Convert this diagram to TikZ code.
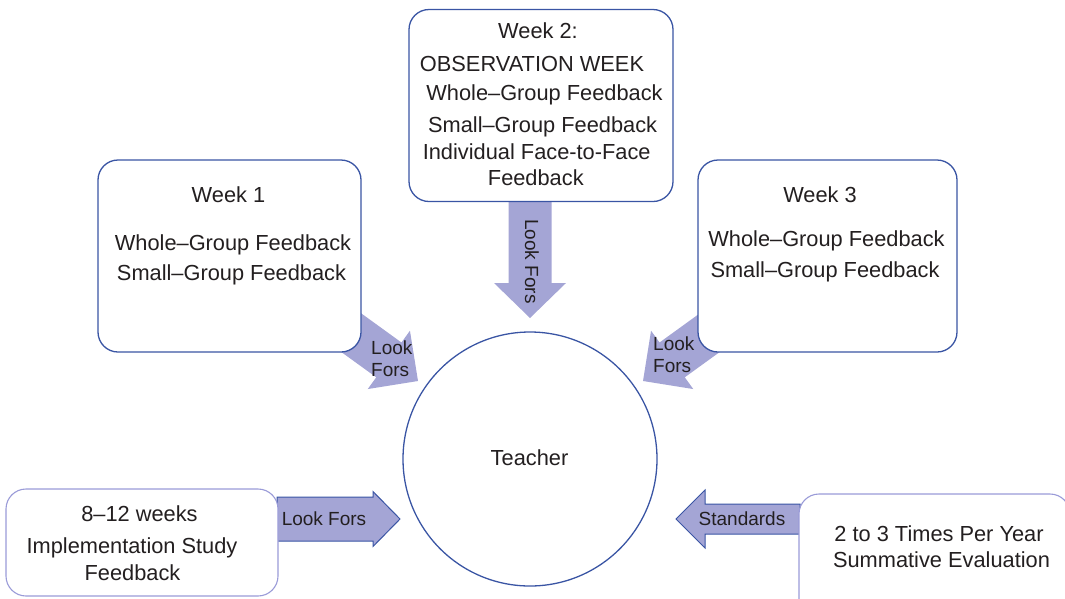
\documentclass[tikz,border=0pt]{standalone}
\usepackage{fontspec}
\setmainfont{Liberation Sans}
\definecolor{boxblue}{HTML}{3A55A4}
\definecolor{lightbox}{HTML}{9A9BD8}
\definecolor{arrowfill}{HTML}{A4A5D5}
\definecolor{txt}{HTML}{231F20}
\newcommand{\blockarr}[7]{% #1 style, #2 tip, #3 angle, #4 head length, #5 head half width, #6 shaft half width, #7 shaft length
  \begin{scope}[shift={(#2)}, rotate=#3]
    \path[#1] (0,0) -- (-#4,#5) -- (-#4,#6) -- (-#4-#7,#6) -- (-#4-#7,-#6) -- (-#4,-#6) -- (-#4,-#5) -- cycle;
  \end{scope}}
\tikzset{
  box/.style={draw=boxblue, line width=1.3pt, fill=white, rounded corners=20pt, inner sep=0pt, outer sep=0pt},
  softbox/.style={box, draw=lightbox, line width=1.1pt},
  txtnode/.style={text=txt, inner sep=0pt, anchor=base, font=\fontsize{21.8}{26}\selectfont},
  lbl/.style={text=txt, inner sep=0pt, font=\fontsize{19}{22}\selectfont},
  arrplain/.style={fill=arrowfill},
  arroutl/.style={fill=arrowfill, draw=boxblue, line width=1pt, line join=miter},
}
\begin{document}
\begin{tikzpicture}[x=1pt, y=-1pt]
\useasboundingbox (0,0) rectangle (1065,598);
\clip (0,0) rectangle (1065,598);

% arrow tips
\coordinate (tipdown) at (530,318);
\coordinate (tipleft) at (418,381);
\coordinate (tipright) at (643,381);
\coordinate (tipbl) at (400,519);
\coordinate (tipbr) at (676,519);

% block arrows (drawn below the boxes)
\blockarr{arrplain}{tipdown}{-90}{35}{36}{21.5}{100}
\blockarr{arrplain}{tipleft}{-35.9}{36}{36}{21.5}{80}
\blockarr{arrplain}{tipright}{-144.1}{36}{36}{21.5}{80}
\blockarr{arroutl}{tipbl}{0}{27}{27.5}{22}{96}
\blockarr{arroutl}{tipbr}{180}{29}{29}{15}{95}

% boxes
\node[box, minimum width=264pt, minimum height=192pt] (w2) at (541,105.5) {};
\node[box, minimum width=263pt, minimum height=192pt] (w1) at (229.5,256) {};
\node[box, minimum width=259pt, minimum height=192pt] (w3) at (827.5,256) {};
\node[softbox, minimum width=272pt, minimum height=107pt] (impl) at (142,542.5) {};
\node[softbox, minimum width=271pt, minimum height=130pt] (summ) at (934.5,559) {};

% teacher circle
\node[draw=boxblue, line width=1.3pt, fill=white, circle, minimum size=254pt, inner sep=0pt, outer sep=0pt] (teacher) at (530,459) {};
\node[txtnode] (teachertxt) at (529.5,465.5) {Teacher};

% Week 2 text
\node[txtnode] (w2a) at (538,38.3) {Week 2:};
\node[txtnode] (w2b) at (532,71) {OBSERVATION WEEK};
\node[txtnode] (w2c) at (544.5,100) {Whole–Group Feedback};
\node[txtnode] (w2d) at (542.6,132) {Small–Group Feedback};
\node[txtnode] (w2e) at (536.7,159) {Individual Face-to-Face};
\node[txtnode] (w2f) at (535.8,185) {Feedback};

% Week 1 text
\node[txtnode] (w1a) at (228.5,202.3) {Week 1};
\node[txtnode] (w1b) at (233,250) {Whole–Group Feedback};
\node[txtnode] (w1c) at (231.5,280) {Small–Group Feedback};

% Week 3 text
\node[txtnode] (w3a) at (820,202.3) {Week 3};
\node[txtnode] (w3b) at (826.5,246) {Whole–Group Feedback};
\node[txtnode] (w3c) at (825,277.7) {Small–Group Feedback};

% bottom left text
\node[txtnode] (ia) at (139.5,521.7) {8–12 weeks};
\node[txtnode] (ib) at (132,553.3) {Implementation Study};
\node[txtnode] (ic) at (132.5,580) {Feedback};

% bottom right text
\node[txtnode] (sa) at (939,541.7) {2 to 3 Times Per Year};
\node[txtnode] (sb) at (941.5,567) {Summative Evaluation};

% arrow labels
\node[lbl, rotate=-90] (ldown) at (532,261.5) {Look Fors};
\node[lbl, anchor=base west] (ll1) at (371,354) {Look};
\node[lbl, anchor=base west] (ll2) at (371,376) {Fors};
\node[lbl, anchor=base west] (lr1) at (653,350.7) {Look};
\node[lbl, anchor=base west] (lr2) at (653,372.7) {Fors};
\node[lbl, anchor=base] (lbl1) at (324,525) {Look Fors};
\node[lbl, anchor=base] (lbr) at (742,525) {Standards};
\end{tikzpicture}
\end{document}
